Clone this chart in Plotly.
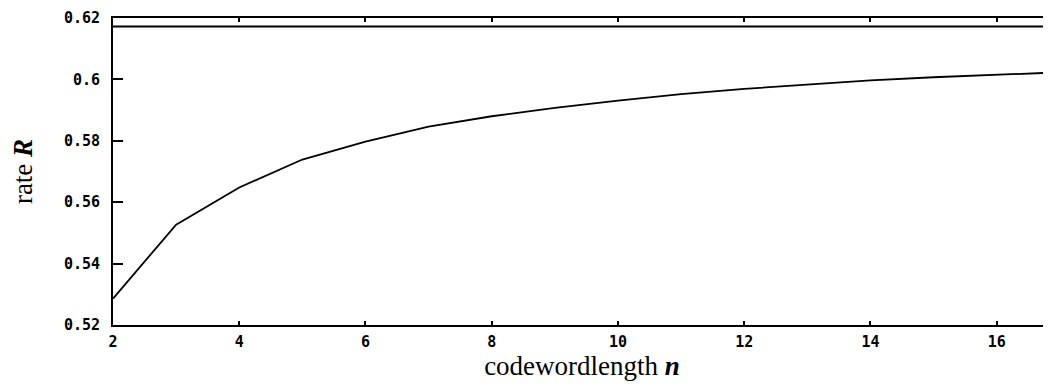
import plotly.graph_objects as go

# Data
n_values = [2, 3, 4, 5, 6, 7, 8, 9, 10, 11, 12, 13, 14, 15, 16, 17]
rate_values = [0.5286, 0.5527, 0.5648, 0.5739, 0.5797, 0.5846, 0.5880, 0.5907,
               0.5931, 0.5952, 0.5969, 0.5984, 0.5997, 0.6007, 0.6015, 0.6023]
limit_value = 0.6172
x_range = [2, 16.86]
y_ticks = [0.52, 0.54, 0.56, 0.58, 0.6, 0.62]
y_ticktext = ["0.52", "0.54", "0.56", "0.58", "0.6", "0.62"]
x_ticks = [2, 4, 6, 8, 10, 12, 14, 16]

fig = go.Figure()
fig.add_trace(go.Scatter(x=n_values, y=rate_values, mode="lines",
                         line=dict(color="black", width=1.8), showlegend=False))
fig.add_trace(go.Scatter(x=[x_range[0], 17.5], y=[limit_value, limit_value], mode="lines",
                         line=dict(color="black", width=2), showlegend=False))

tickfont = dict(family="DejaVu Sans Mono", size=15, color="black", weight="bold")
titlefont = dict(family="Liberation Serif, Times New Roman, serif", size=27, color="black")

# the page body adds an 8px offset; size the figure to compensate
fig.update_layout(
    width=1043, height=378,
    margin=dict(l=105, r=0, t=10, b=61),
    paper_bgcolor="white", plot_bgcolor="white",
    xaxis=dict(range=x_range, tickvals=x_ticks, ticks="inside", ticklen=4, tickwidth=2,
               tickcolor="black", showline=True, linecolor="black", linewidth=2,
               mirror="ticks", showgrid=False, zeroline=False, tickfont=tickfont,
               ticklabelstandoff=2, automargin=False, ticklabeloverflow="allow",
               title=dict(text="codewordlength <b><i>n</i></b>", font=titlefont, standoff=5)),
    yaxis=dict(range=[0.52, 0.62], tickvals=y_ticks, ticktext=y_ticktext, ticks="inside",
               ticklen=10, tickwidth=2, tickcolor="black", showline=True, linecolor="black",
               linewidth=2, mirror=False, showgrid=False, zeroline=False, tickfont=tickfont,
               ticklabelstandoff=8, automargin=False, ticklabeloverflow="allow",
               title=dict(text="rate <b><i>R</i></b>", font=titlefont, standoff=28)),
)

fig.write_html("out.html")
